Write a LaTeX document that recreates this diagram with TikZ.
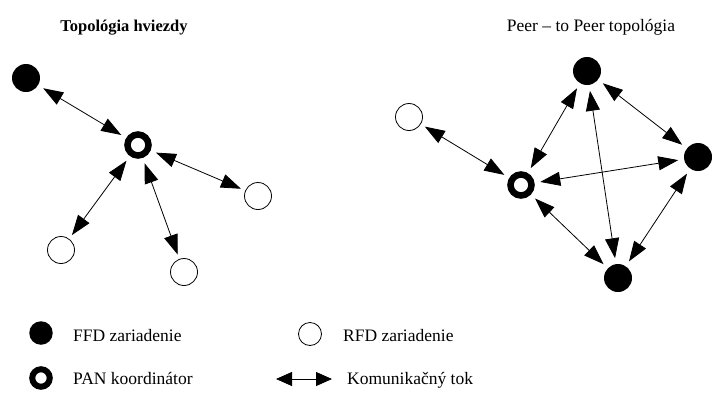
\documentclass[tikz,border=0pt]{standalone}
\usepackage{fontspec}
\setmainfont{Liberation Serif}
\usetikzlibrary{arrows.meta}
\begin{document}
\begin{tikzpicture}[x=1pt,y=-1pt,
  ffd/.style={circle,fill=black,inner sep=0pt,minimum size=28pt,outer sep=6pt},
  rfd/.style={circle,draw=black,line width=0.8pt,fill=white,inner sep=0pt,minimum size=27pt,outer sep=5pt},
  pan/.style={circle,draw=black,line width=6.5pt,inner sep=0pt,minimum size=21pt,outer sep=9pt},
  lffd/.style={circle,fill=black,inner sep=0pt,minimum size=23.5pt},
  lrfd/.style={circle,draw=black,line width=0.8pt,inner sep=0pt,minimum size=23pt},
  lpan/.style={circle,draw=black,line width=6pt,inner sep=0pt,minimum size=17.5pt},
  flow/.style={line width=0.8pt,{Triangle[length=20pt,width=14pt]}-{Triangle[length=20pt,width=14pt]}},
  lflow/.style={line width=0.8pt,{Triangle[length=16pt,width=14pt]}-{Triangle[length=16pt,width=14pt]}},
  txt/.style={inner sep=0pt,font=\fontsize{17.5}{20}\selectfont},
]
\useasboundingbox (0,0) rectangle (722,407);

% titles
\node[inner sep=0pt,font=\fontsize{16.5}{20}\selectfont\bfseries,anchor=base] (t1) at (124,31) {Topológia hviezdy};
\node[txt,anchor=base] (t2) at (591,31) {Peer – to Peer topológia};

% star topology
\node[ffd] (s1) at (26,78) {};
\node[pan] (sp) at (138,145) {};
\node[rfd] (s2) at (258,196) {};
\node[rfd] (s3) at (61,250) {};
\node[rfd] (s4) at (184,272) {};
\draw[flow] (s1) -- (sp);
\draw[flow] (sp) -- (s2);
\draw[flow] (sp) -- (s3);
\draw[flow] (sp) -- (s4);

% peer-to-peer topology
\node[rfd] (p1) at (409,117) {};
\node[pan] (pp) at (521,185) {};
\node[ffd] (pt) at (587,71) {};
\node[ffd] (pr) at (698,157) {};
\node[ffd] (pb) at (618,278) {};
\draw[flow] (p1) -- (pp);
\draw[flow] (pp) -- (pt);
\draw[flow] (pp) -- (pr);
\draw[flow] (pp) -- (pb);
\draw[flow] (pt) -- (pr);
\draw[flow] (pt) -- (pb);
\draw[flow] (pr) -- (pb);

% legend
\node[lffd] (l1) at (41,333) {};
\node[txt,anchor=base west] (l1t) at (73,341) {FFD zariadenie};
\node[lpan] (l2) at (41,378) {};
\node[txt,anchor=base west] (l2t) at (73,384.5) {PAN koordinátor};
\node[lrfd] (l3) at (310,334) {};
\node[txt,anchor=base west] (l3t) at (343,341) {RFD zariadenie};
\coordinate (la) at (276,379);
\coordinate (lb) at (332,379);
\draw[lflow] (la) -- (lb);
\node[txt,anchor=base west] (l4t) at (347,384.5) {Komunikačný tok};
\end{tikzpicture}
\end{document}
